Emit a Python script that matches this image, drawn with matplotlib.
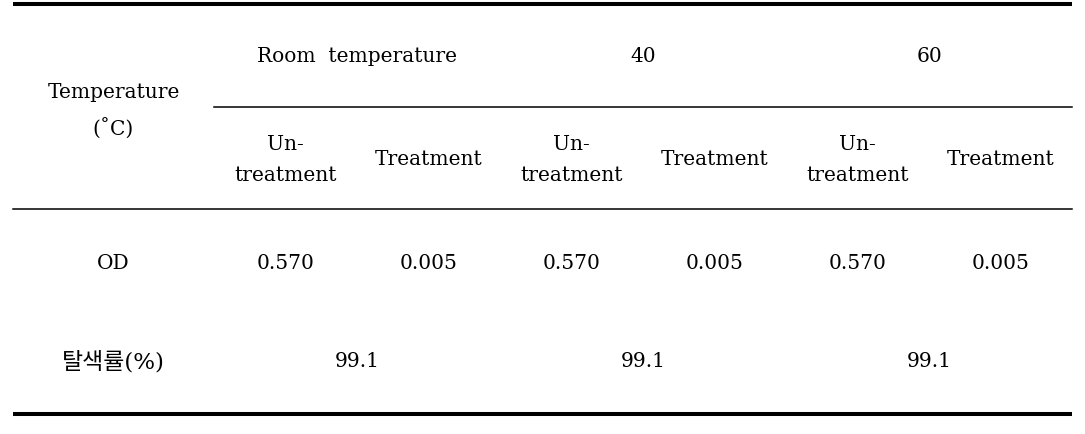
import matplotlib
matplotlib.use('Agg')
import matplotlib.pyplot as plt

# table contents
groups = ['Room  temperature', '40', '60']
sub_labels = ['Un-\ntreatment', 'Treatment'] * 3
od_values = ['0.570', '0.005', '0.570', '0.005', '0.570', '0.005']
decolor_rate = ['99.1', '99.1', '99.1']
row_head = 'Temperature\n(\u02daC)'
row_labels = ['OD', '탈색률(%)']


def main():
	fig = plt.figure(figsize=(10.85, 4.35), dpi=100)
	ax = fig.add_axes([0, 0, 1, 1])
	ax.set_xlim(0, 1085)
	ax.set_ylim(435, 0)
	ax.axis('off')

	fam = ['DejaVu Serif', 'Noto Sans CJK KR']
	fs = 14.5
	left, right = 13, 1072
	first_w = 201
	col_w = (right - left - first_w) / 6.0
	col_c = [left + first_w + col_w * (i + 0.5) for i in range(6)]
	grp_c = [left + first_w + col_w * (2 * i + 1) for i in range(3)]

	# rules
	ax.plot([left, right], [5, 5], color='black', lw=2.9, solid_capstyle='butt')
	ax.plot([left + first_w, right], [108, 108], color='black', lw=1.1)
	ax.plot([left, right], [210, 210], color='black', lw=1.1)
	ax.plot([left, right], [415, 415], color='black', lw=2.9, solid_capstyle='butt')

	# header
	ax.text(left + first_w / 2, 111, row_head, ha='center', va='center',
		fontsize=fs, family=fam, linespacing=1.9)
	for x, g in zip(grp_c, groups):
		ax.text(x, 57, g, ha='center', va='center', fontsize=fs, family=fam)
	for x, s in zip(col_c, sub_labels):
		ax.text(x, 160, s, ha='center', va='center', fontsize=fs, family=fam,
			linespacing=1.8)

	# body
	ax.text(left + first_w / 2, 264, row_labels[0], ha='center', va='center',
		fontsize=fs, family=fam)
	for x, v in zip(col_c, od_values):
		ax.text(x, 264, v, ha='center', va='center', fontsize=fs, family=fam)
	ax.text(left + first_w / 2, 362, row_labels[1], ha='center', va='center',
		fontsize=16.5, family=fam)
	for x, v in zip(grp_c, decolor_rate):
		ax.text(x, 362, v, ha='center', va='center', fontsize=fs, family=fam)

	fig.savefig('out.png', dpi=100, facecolor='white')


if __name__ == '__main__':
	main()
